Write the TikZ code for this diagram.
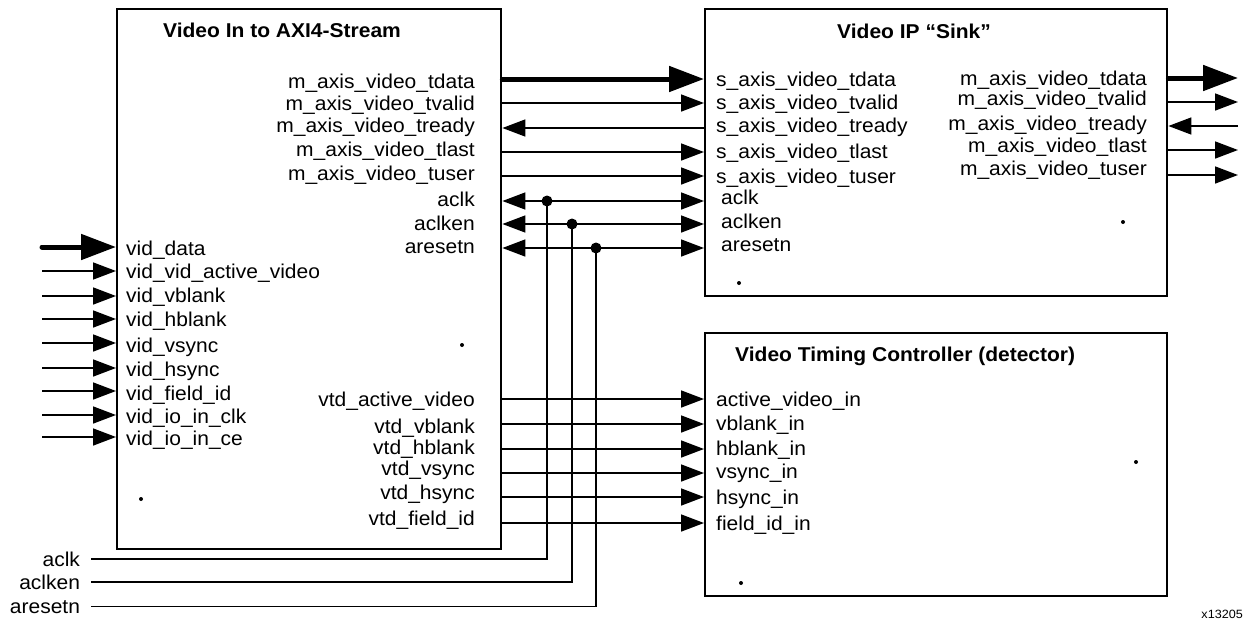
\documentclass[tikz,border=0pt]{standalone}
\usepackage{fontspec}
\setmainfont{Liberation Sans}[FakeStretch=1.05]
\usetikzlibrary{arrows.meta}
\begin{document}
\begin{tikzpicture}[x=1pt,y=-1pt,
  box/.style={draw, line width=2.4pt, anchor=north west, inner sep=0pt},
  ttl/.style={font=\bfseries\fontsize{20}{22}\selectfont, inner sep=0pt},
  lbl/.style={font=\fontsize{20}{22}\selectfont, inner sep=0pt},
  sig/.style={line width=1.6pt, -{Triangle[length=23pt,width=17pt]}},
  bus/.style={line width=5pt, line cap=round, -{Triangle[length=35pt,width=25pt]}},
  bidir/.style={line width=1.6pt, {Triangle[length=23pt,width=17pt]}-{Triangle[length=23pt,width=17pt]}},
  wire/.style={line width=1.6pt},
  dotm/.style={circle, fill, inner sep=0pt, minimum size=4pt},
  jdot/.style={circle, fill, inner sep=0pt, minimum size=11pt}]
\useasboundingbox (0,0) rectangle (1248,622);

% blocks
\node[box, minimum width=384pt, minimum height=540pt] (vin) at (116,8) {};
\node[box, minimum width=462pt, minimum height=287pt] (sink) at (704,8) {};
\node[box, minimum width=462pt, minimum height=263pt] (vtc) at (704,332) {};

% titles
\node[ttl, anchor=base west] (tvin) at (163,37) {Video In to AXI4-Stream};
\node[ttl, anchor=base west] (tsink) at (837,38) {Video IP “Sink”};
\node[ttl, anchor=base west] (tvtc) at (735,361) {Video Timing Controller (detector)};

% Video In to AXI4-Stream: right side labels
\foreach \n/\y/\t in {a/88/m\_axis\_video\_tdata, b/110/m\_axis\_video\_tvalid,
  c/132/m\_axis\_video\_tready, d/156/m\_axis\_video\_tlast, e/180/m\_axis\_video\_tuser,
  f/206/aclk, g/230/aclken, h/253/aresetn,
  i/406/vtd\_active\_video, j/433/vtd\_vblank, k/454/vtd\_hblank, l/475/vtd\_vsync,
  m/499/vtd\_hsync, n/525/vtd\_field\_id}
  \node[lbl, anchor=base east] (vo\n) at (475,\y) {\t};

% Video In to AXI4-Stream: left side labels
\foreach \n/\y/\t in {a/255/vid\_data, b/278/vid\_vid\_active\_video, c/302/vid\_vblank,
  d/326/vid\_hblank, e/352/vid\_vsync, f/376/vid\_hsync, g/400/vid\_field\_id,
  h/423/vid\_io\_in\_clk, i/445/vid\_io\_in\_ce}
  \node[lbl, anchor=base west] (vi\n) at (126,\y) {\t};

% Sink labels
\foreach \n/\y/\t in {a/86/s\_axis\_video\_tdata, b/109/s\_axis\_video\_tvalid,
  c/132/s\_axis\_video\_tready, d/158/s\_axis\_video\_tlast, e/183/s\_axis\_video\_tuser}
  \node[lbl, anchor=base west] (si\n) at (716,\y) {\t};
\foreach \n/\y/\t in {f/204/aclk, g/228/aclken, h/251/aresetn}
  \node[lbl, anchor=base west] (si\n) at (721,\y) {\t};
\foreach \n/\y/\t in {a/85/m\_axis\_video\_tdata, b/105/m\_axis\_video\_tvalid,
  c/130/m\_axis\_video\_tready, d/152/m\_axis\_video\_tlast, e/175/m\_axis\_video\_tuser}
  \node[lbl, anchor=base east] (so\n) at (1147,\y) {\t};

% VTC labels
\foreach \n/\y/\t in {a/406/active\_video\_in, b/430/vblank\_in, c/455/hblank\_in,
  d/478/vsync\_in, e/504/hsync\_in, f/530/field\_id\_in}
  \node[lbl, anchor=base west] (ti\n) at (716,\y) {\t};

% AXI4-Stream connections between blocks
\draw[bus] (vin.east |- 0,79) -- (sink.west |- 0,79);
\draw[sig] (vin.east |- 0,103) -- (sink.west |- 0,103);
\draw[sig] (sink.west |- 0,128) -- (vin.east |- 0,128);
\draw[sig] (vin.east |- 0,152) -- (sink.west |- 0,152);
\draw[sig] (vin.east |- 0,176) -- (sink.west |- 0,176);
\draw[bidir] (vin.east |- 0,201) -- (sink.west |- 0,201);
\draw[bidir] (vin.east |- 0,224) -- (sink.west |- 0,224);
\draw[bidir] (vin.east |- 0,248) -- (sink.west |- 0,248);

% timing connections
\foreach \y in {399,424,449,473,497,523}
  \draw[sig] (vin.east |- 0,\y) -- (vtc.west |- 0,\y);

% inputs on the left
\coordinate (inA) at (42,247);
\draw[bus] (inA) -- (vin.west |- inA);
\foreach \y in {271,296,319,343,368,391,415,437} {
  \coordinate (inp) at (42,\y);
  \draw[sig] (inp) -- (vin.west |- inp);
}

% sink outputs
\coordinate (oA) at (1238,78);
\coordinate (oB) at (1238,102);
\coordinate (oC) at (1238,126);
\coordinate (oD) at (1238,150);
\coordinate (oE) at (1238,175);
\draw[bus] (sink.east |- oA) -- (oA);
\draw[sig] (sink.east |- oB) -- (oB);
\draw[sig] (oC) -- (sink.east |- oC);
\draw[sig] (sink.east |- oD) -- (oD);
\draw[sig] (sink.east |- oE) -- (oE);

% clock / enable / reset distribution
\node[jdot] (ja) at (547,201) {};
\node[jdot] (jb) at (572,224) {};
\node[jdot] (jc) at (596,248) {};
\node[lbl, anchor=base east, outer xsep=11pt] (ba) at (91,566) {aclk};
\node[lbl, anchor=base east, outer xsep=11pt] (bb) at (91,589) {aclken};
\node[lbl, anchor=base east, outer xsep=11pt] (bc) at (91,613) {aresetn};
\draw[wire] (ba.east) -| (ja.center);
\draw[wire] (bb.east) -| (jb.center);
\draw[wire] (bc.east) -| (jc.center);

% small dots
\node[dotm] (d1) at (462,345) {};
\node[dotm] (d2) at (141,499) {};
\node[dotm] (d3) at (739,283) {};
\node[dotm] (d4) at (1123,222) {};
\node[dotm] (d5) at (1136,462) {};
\node[dotm] (d6) at (741,583) {};

% figure number
\node[font=\fontsize{12}{14}\selectfont, anchor=base east, inner sep=0pt] (fig) at (1243,618) {x13205};
\end{tikzpicture}
\end{document}
